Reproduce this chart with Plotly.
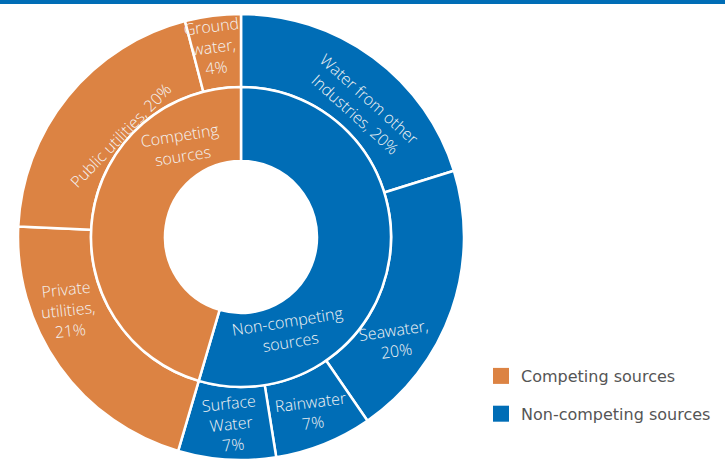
import plotly.graph_objects as go

# ---------------- data ----------------
# listed clockwise from 12 o'clock
inner_labels = ["Non-competing sources", "Competing sources"]
inner_values = [54, 45]

outer_labels = ["Water from other Industries", "Seawater", "Rainwater",
                "Surface Water", "Private utilities", "Public utilities",
                "Ground water"]
outer_values = [20, 20, 7, 7, 21, 20, 4]
outer_parents = ["Non-competing sources"] * 4 + ["Competing sources"] * 3

# text shown on the chart
outer_text = ["Water from other<br>Industries, 20%", "Seawater,<br>20%",
              "Rainwater<br>7%", "Surface<br>Water<br>7%",
              "Private<br>utilities,<br>21%", "Public utilities, 20%",
              "Ground<br>water,<br>4%"]
inner_text = ["Non-competing<br>sources", "Competing<br>sources"]

legend_labels = ["Competing sources", "Non-competing sources"]

# ---------------- style ----------------
W, H = 725, 460
ORANGE = "#DC8343"
BLUE = "#006DB6"
color_of = {"Competing sources": ORANGE, "Non-competing sources": BLUE}
FONT = "Open Sans"

CX, CY = 241, 237          # pie centre (px)
R_OUT, R_MID, R_HOLE = 223, 150, 76

# label placement (px in canvas) and rotation, same order as texts
outer_pos = [(362, 106, 42), (395, 340, -8), (311, 412, -7), (231, 424, -6),
             (68, 310, -6), (121, 135, -46), (214, 47, -7)]
inner_pos = [(289, 331, -9), (182, 146, -9)]


def dom(r):
    return dict(x=[(CX - r) / W, (CX + r) / W],
                y=[(H - CY - r) / H, (H - CY + r) / H])


fig = go.Figure()

fig.add_trace(go.Pie(
    labels=outer_labels, values=outer_values, sort=False,
    direction="clockwise", rotation=0,
    hole=R_MID / R_OUT, domain=dom(R_OUT),
    marker=dict(colors=[color_of[p] for p in outer_parents],
                line=dict(color="white", width=2.5)),
    textinfo="none", showlegend=False, hoverinfo="label+value",
))

fig.add_trace(go.Pie(
    labels=inner_labels, values=inner_values, sort=False,
    direction="clockwise", rotation=0,
    hole=R_HOLE / R_MID, domain=dom(R_MID),
    marker=dict(colors=[color_of[l] for l in inner_labels],
                line=dict(color="white", width=2.5)),
    textinfo="none", showlegend=False, hoverinfo="label+value",
))

# legend entries
for lab in legend_labels:
    fig.add_trace(go.Scatter(
        x=[None], y=[None], mode="markers", name=lab,
        legendgroup=lab,
        marker=dict(symbol="square", size=16, color=color_of[lab]),
    ))

annos = []
for txt, (px, py, ang) in zip(outer_text + inner_text, outer_pos + inner_pos):
    annos.append(dict(
        x=px / W, y=1 - py / H, xref="paper", yref="paper",
        text=txt, showarrow=False, textangle=ang,
        xanchor="center", yanchor="middle", align="center",
        font=dict(family=FONT, size=16, color="#F4F4F4", weight=300),
    ))

fig.update_layout(
    width=W, height=H,
    margin=dict(l=0, r=0, t=0, b=0),
    paper_bgcolor="white", plot_bgcolor="white",
    xaxis=dict(visible=False), yaxis=dict(visible=False),
    annotations=annos,
    shapes=[dict(type="rect", xref="paper", yref="paper",
                 x0=0, x1=1, y0=1 - 4 / H, y1=1,
                 fillcolor=BLUE, line=dict(width=0))],
    legend=dict(x=481 / W, y=1 - 359 / H, xanchor="left", yanchor="top",
                font=dict(family="DejaVu Sans", size=16, color="#555555"),
                tracegroupgap=14, bgcolor="rgba(0,0,0,0)"),
)

fig.write_html("out.html", config={"displayModeBar": False},
               post_script="document.body.style.margin='0px';")
